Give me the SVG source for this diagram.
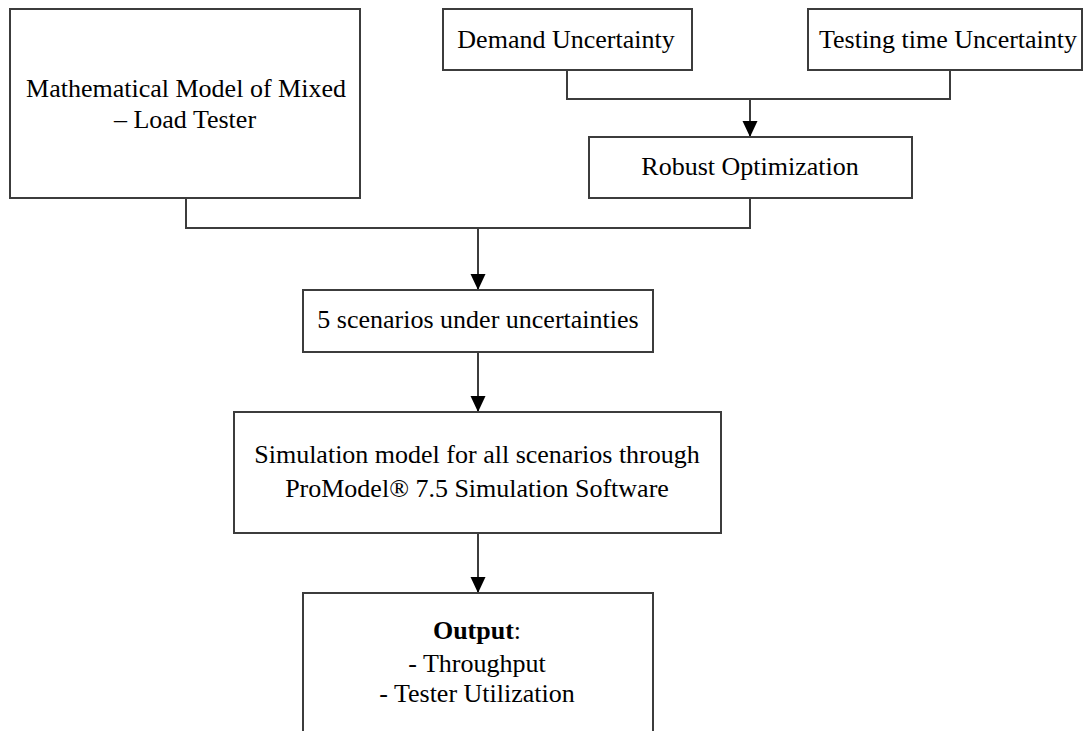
<svg xmlns="http://www.w3.org/2000/svg" width="1083" height="731" viewBox="0 0 1083 731">
<defs>
<style>
.box{fill:#fff;stroke:#3c3c3c;stroke-width:2}
.ln{fill:none;stroke:#3c3c3c;stroke-width:2}
text{font-family:"Liberation Serif","Times New Roman",serif;font-size:26px;fill:#000;text-anchor:middle}
.b{font-weight:bold}
</style>
<marker id="ah" markerUnits="userSpaceOnUse" markerWidth="16" markerHeight="16" viewBox="0 0 16 16" refX="16" refY="8" orient="auto">
<path d="M0,0.5 L16,8 L0,15.5 z" fill="#000"/>
</marker>
</defs>
<rect width="1083" height="731" fill="#fff"/>
<g id="connectors">
<path class="ln" d="M186,198 V228 H750 V198"/>
<path class="ln" d="M567,70 V99 H950 V70"/>
<path class="ln" d="M750,99 V137" marker-end="url(#ah)"/>
<path class="ln" d="M478,228 V290" marker-end="url(#ah)"/>
<path class="ln" d="M478,352 V412" marker-end="url(#ah)"/>
<path class="ln" d="M478,533 V593" marker-end="url(#ah)"/>
</g>
<g id="math-model">
<rect class="box" x="10" y="9" width="350" height="189"/>
<text x="186" y="97">Mathematical Model of Mixed</text>
<text x="185" y="128">– Load Tester</text>
</g>
<g id="demand">
<rect class="box" x="443" y="9" width="249" height="61"/>
<text x="566" y="48">Demand Uncertainty</text>
</g>
<g id="testing">
<rect class="box" x="808" y="9" width="274" height="61"/>
<text x="948" y="48">Testing time Uncertainty</text>
</g>
<g id="robust">
<rect class="box" x="589" y="137" width="323" height="61"/>
<text x="750" y="175">Robust Optimization</text>
</g>
<g id="scenarios">
<rect class="box" x="303" y="290" width="350" height="62"/>
<text x="478" y="328">5 scenarios under uncertainties</text>
</g>
<g id="simulation">
<rect class="box" x="234" y="412" width="487" height="121"/>
<text x="477" y="463">Simulation model for all scenarios through</text>
<text x="477" y="497">ProModel® 7.5 Simulation Software</text>
</g>
<g id="output">
<rect class="box" x="303" y="593" width="350" height="160"/>
<text x="477" y="639"><tspan class="b">Output</tspan>:</text>
<text x="477" y="672">- Throughput</text>
<text x="477" y="702">- Tester Utilization</text>
</g>
</svg>
